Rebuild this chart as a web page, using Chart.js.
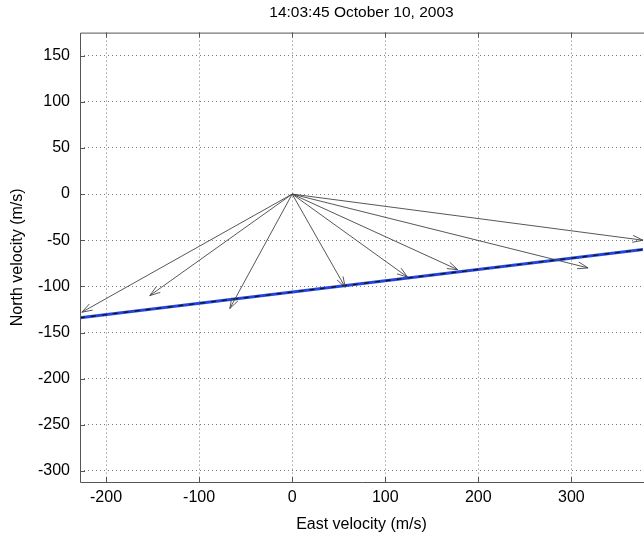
<!DOCTYPE html>
<html lang="en">
<head>
    <meta charset="UTF-8">
    <title>Velocity vectors</title>
    <script src="https://cdn.jsdelivr.net/npm/chart.js"></script>
    <style>
        body {
            margin: 0;
            background: #fff;
        }

        #wrap {
            width: 644px;
            height: 534px;
        }
    </style>
</head>
<body>
    <div id="wrap">
        <canvas id="velChart" width="644" height="534"></canvas>
    </div>
    <script>
        // axis ranges and ticks
        const xRange = [-228, 377];
        const yRange = [-312, 175];
        const xTicks = [-200, -100, 0, 100, 200, 300];
        const yTicks = [150, 100, 50, 0, -50, -100, -150, -200, -250, -300];

        // velocity vectors, all starting at the origin
        const arrowEast = [-226, -153, -67, 57, 124, 178, 318, 377];
        const arrowNorth = [-128, -110, -124, -101, -90, -82, -80, -50];

        // fitted line
        const fitEast = [-228, 377];
        const fitNorth = [-134, -60];

        const fontFamily = "Arial, 'Liberation Sans', sans-serif";

        const fitPoints = fitEast.map((x, i) => ({ x: x, y: fitNorth[i] }));

        // draws the quiver arrows and the axes box
        const arrowPlugin = {
            id: 'arrows',
            afterDatasetsDraw(chart) {
                const ctx = chart.ctx;
                const xs = chart.scales.x;
                const ys = chart.scales.y;
                const area = chart.chartArea;
                const x0 = xs.getPixelForValue(0);
                const y0 = ys.getPixelForValue(0);

                ctx.save();
                ctx.beginPath();
                ctx.rect(area.left, area.top, area.right - area.left + 2, area.bottom - area.top);
                ctx.clip();
                ctx.strokeStyle = '#444';
                ctx.lineWidth = 0.9;
                arrowEast.forEach((e, i) => {
                    const tx = xs.getPixelForValue(e);
                    const ty = ys.getPixelForValue(arrowNorth[i]);
                    const ang = Math.atan2(ty - y0, tx - x0);
                    const head = 11;
                    const spread = 0.32;
                    ctx.beginPath();
                    ctx.moveTo(x0, y0);
                    ctx.lineTo(tx, ty);
                    ctx.moveTo(tx - head * Math.cos(ang - spread), ty - head * Math.sin(ang - spread));
                    ctx.lineTo(tx, ty);
                    ctx.lineTo(tx - head * Math.cos(ang + spread), ty - head * Math.sin(ang + spread));
                    ctx.stroke();
                });
                ctx.restore();

                // box and inward tick marks
                ctx.save();
                ctx.strokeStyle = '#555';
                ctx.lineWidth = 1;
                ctx.beginPath();
                ctx.moveTo(area.right + 1, area.top + 0.5);
                ctx.lineTo(area.left + 0.5, area.top + 0.5);
                ctx.lineTo(area.left + 0.5, area.bottom + 0.5);
                ctx.lineTo(area.right + 1, area.bottom + 0.5);
                xTicks.forEach(v => {
                    const px = Math.round(xs.getPixelForValue(v)) + 0.5;
                    ctx.moveTo(px, area.bottom);
                    ctx.lineTo(px, area.bottom - 5);
                    ctx.moveTo(px, area.top);
                    ctx.lineTo(px, area.top + 5);
                });
                yTicks.forEach(v => {
                    const py = Math.round(ys.getPixelForValue(v)) + 0.5;
                    ctx.moveTo(area.left, py);
                    ctx.lineTo(area.left + 5, py);
                });
                ctx.stroke();
                ctx.restore();
            }
        };

        const keepTicks = (list) => (scale) => {
            scale.ticks = list.map(v => ({ value: v }));
        };

        new Chart(document.getElementById('velChart'), {
            type: 'scatter',
            data: {
                datasets: [
                    {
                        // black dashes on top of the blue line
                        data: fitPoints,
                        showLine: true,
                        borderColor: '#111',
                        borderWidth: 1.2,
                        borderDash: [5, 6],
                        pointRadius: 0
                    },
                    {
                        data: fitPoints,
                        showLine: true,
                        borderColor: '#2446e0',
                        borderWidth: 3,
                        pointRadius: 0
                    }
                ]
            },
            options: {
                responsive: false,
                animation: false,
                layout: {
                    padding: { top: 0, right: 1, left: 0, bottom: 0 }
                },
                plugins: {
                    legend: { display: false },
                    tooltip: { enabled: false },
                    title: {
                        display: true,
                        fullSize: false,
                        text: '14:03:45 October 10, 2003',
                        color: '#000',
                        font: { family: fontFamily, size: 15.5, weight: 'normal' },
                        padding: { top: 3, bottom: 11 }
                    }
                },
                scales: {
                    x: {
                        type: 'linear',
                        min: xRange[0],
                        max: xRange[1],
                        afterBuildTicks: keepTicks(xTicks),
                        afterFit: (scale) => { scale.height = 52; },
                        ticks: {
                            color: '#000',
                            padding: 6,
                            font: { family: fontFamily, size: 16 }
                        },
                        grid: {
                            color: '#7a7a7a',
                            lineWidth: 1,
                            drawTicks: false
                        },
                        border: { display: false, dash: [1, 3] },
                        title: {
                            display: true,
                            text: 'East velocity (m/s)',
                            color: '#000',
                            font: { family: fontFamily, size: 16 },
                            padding: { top: 3, bottom: 0 }
                        }
                    },
                    y: {
                        type: 'linear',
                        min: yRange[0],
                        max: yRange[1],
                        afterBuildTicks: keepTicks(yTicks),
                        afterFit: (scale) => { scale.width = 80; },
                        ticks: {
                            color: '#000',
                            padding: 10,
                            font: { family: fontFamily, size: 16 }
                        },
                        grid: {
                            color: '#7a7a7a',
                            lineWidth: 1,
                            drawTicks: false
                        },
                        border: { display: false, dash: [1, 3] },
                        title: {
                            display: true,
                            text: 'North velocity (m/s)',
                            color: '#000',
                            font: { family: fontFamily, size: 16 },
                            padding: { top: 8, bottom: 0 }
                        }
                    }
                }
            },
            plugins: [arrowPlugin]
        });
    </script>
</body>
</html>
